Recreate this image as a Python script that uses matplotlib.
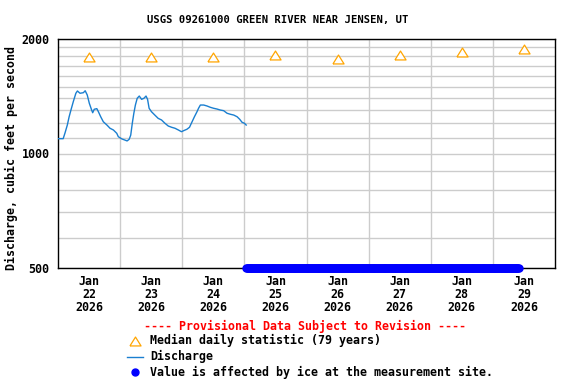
import matplotlib
matplotlib.use("Agg")
import matplotlib.pyplot as plt
import matplotlib.dates as mdates
from matplotlib.ticker import FixedLocator, NullFormatter, FixedFormatter
from matplotlib.lines import Line2D
import pandas as pd

# ---------------- data ----------------
title = "USGS 09261000 GREEN RIVER NEAR JENSEN, UT"
base = pd.Timestamp("2026-01-22 00:00")

discharge_hours = [0, 2, 2.7, 3.6, 4.3, 5, 5.9, 6.9, 7.5, 8.5,
                   9.8, 10.5, 11.3, 12.1, 13, 13.4, 14, 15, 15.6, 16.5,
                   17.5, 18.9, 20.1, 21.4, 22.7, 23.3, 24.7, 25.8, 26.7, 27.5,
                   28.1, 28.7, 29.3, 29.9, 30.6, 31.4, 32.3, 33.2, 34, 34.6,
                   35.2, 36.1, 37.4, 38.7, 40, 41.3, 42.6, 43.9, 45.2, 46.5,
                   47.7, 48.5, 49.8, 50.8, 51.8, 52.7, 53.7, 54.3, 55, 56.3,
                   57.6, 58.8, 60.1, 61.4, 62.7, 64, 65.3, 66.6, 67.9, 69.2,
                   70.2, 71.1, 72, 72.7]
discharge_cfs = [1094, 1094, 1132, 1188, 1249, 1301, 1368, 1440, 1460, 1440,
                 1445, 1462, 1425, 1355, 1301, 1280, 1307, 1312, 1288, 1249,
                 1212, 1188, 1165, 1153, 1130, 1107, 1092, 1085, 1079, 1090,
                 1118, 1201, 1276, 1341, 1397, 1416, 1388, 1397, 1416, 1388,
                 1315, 1288, 1262, 1237, 1225, 1201, 1181, 1172, 1165, 1153,
                 1141, 1148, 1158, 1172, 1212, 1249, 1288, 1315, 1341, 1341,
                 1333, 1323, 1315, 1309, 1301, 1296, 1276, 1268, 1262, 1249,
                 1230, 1208, 1201, 1188]

median_days = ["2026-01-22 12:00", "2026-01-23 12:00", "2026-01-24 12:00",
               "2026-01-25 12:00", "2026-01-26 12:00", "2026-01-27 12:00",
               "2026-01-28 12:00", "2026-01-29 12:00"]
median_cfs = [1793, 1793, 1793, 1815, 1770, 1815, 1854, 1879]

ice_start = "2026-01-25 00:45"
ice_end = "2026-01-29 10:00"
ice_level = 500

tick_labels = ["Jan\n22\n2026", "Jan\n23\n2026", "Jan\n24\n2026", "Jan\n25\n2026",
               "Jan\n26\n2026", "Jan\n27\n2026", "Jan\n28\n2026", "Jan\n29\n2026"]
y_major = [500, 1000, 2000]
y_minor = [600, 700, 800, 900, 1100, 1200, 1300, 1400, 1500, 1600, 1700, 1800, 1900]

# ---------------- plotting ----------------
plt.rcParams["font.family"] = ["DejaVu Sans Mono"]
plt.rcParams["font.weight"] = "bold"
FS = 8.4

fig = plt.figure(figsize=(5.76, 3.84), dpi=100)
ax = fig.add_axes([58/576, 1-268/384, (555-58)/576, (268-39)/384])

t_dis = base + pd.to_timedelta(discharge_hours, unit="h")
t_med = pd.to_datetime(median_days)
t_ice = pd.date_range(ice_start, ice_end, freq="15min")

tri = [(-1, -0.8), (1, -0.8), (0, 0.8), (-1, -0.8)]
LINE_C = "#1a7fd0"

ax.plot(t_dis, discharge_cfs, color=LINE_C, lw=1.0, zorder=3)
ax.plot(t_med, median_cfs, linestyle="none", marker=tri, ms=8, mfc="white",
        mec="#FFA500", mew=0.9, zorder=4)
ax.plot(t_ice, [ice_level]*len(t_ice), linestyle="none", marker="o", ms=5,
        color="#0000FF", clip_on=False, zorder=5)

ax.set_yscale("log")
ax.set_ylim(500, 2000)
ax.set_xlim(pd.Timestamp("2026-01-22 00:00"), pd.Timestamp("2026-01-30 00:00"))

ax.yaxis.set_major_locator(FixedLocator(y_major))
ax.yaxis.set_major_formatter(FixedFormatter([str(v) for v in y_major]))
ax.yaxis.set_minor_locator(FixedLocator(y_minor))
ax.yaxis.set_minor_formatter(NullFormatter())

ax.set_xticks(t_med)
ax.set_xticklabels(tick_labels)
ax.xaxis.set_minor_locator(FixedLocator(mdates.date2num(
    pd.date_range("2026-01-23", "2026-01-29", freq="D"))))

ax.grid(which="both", axis="y", color="#cccccc", lw=1.0)
ax.grid(which="minor", axis="x", color="#cccccc", lw=1.0)
ax.set_axisbelow(True)

ax.tick_params(axis="both", which="both", length=0)
ax.tick_params(axis="x", pad=5, labelsize=FS)
ax.tick_params(axis="y", pad=6, labelsize=FS)
for lab in ax.get_xticklabels() + ax.get_yticklabels():
    lab.set_fontweight("bold")
for lab in ax.get_xticklabels():
    lab.set_linespacing(1.0)

for s in ax.spines.values():
    s.set_color("black")
    s.set_linewidth(1.0)

fig.text(11.5/576, 1-158.5/384, "Discharge, cubic feet per second", rotation=90,
         ha="center", va="center", fontsize=FS, fontweight="bold")

fig.text(277.5/576, 1-20/384, title, ha="center", va="center",
         fontsize=7.6, fontweight="bold")

# legend / notes
fig.text(305.5/576, 1-326.7/384, "---- Provisional Data Subject to Revision ----",
         ha="center", va="center", color="#FF0000", fontsize=FS, fontweight="bold")

fig.add_artist(Line2D([135/576], [1-340.7/384], transform=fig.transFigure,
                      linestyle="none", marker=tri, ms=8, mfc="white",
                      mec="#FFA500", mew=0.9))
fig.text(150/576, 1-340.7/384, "Median daily statistic (79 years)", ha="left",
         va="center", fontsize=FS, fontweight="bold")

fig.add_artist(Line2D([126.7/576, 143.3/576], [1-356.7/384, 1-356.7/384],
                      transform=fig.transFigure, color=LINE_C, lw=1.0))
fig.text(150/576, 1-356.7/384, "Discharge", ha="left", va="center",
         fontsize=FS, fontweight="bold")

fig.add_artist(Line2D([135/576], [1-372.3/384], transform=fig.transFigure,
                      linestyle="none", marker="o", ms=5, color="#0000FF"))
fig.text(150/576, 1-372.3/384, "Value is affected by ice at the measurement site.",
         ha="left", va="center", fontsize=FS, fontweight="bold")

fig.savefig("out.png", dpi=100)
